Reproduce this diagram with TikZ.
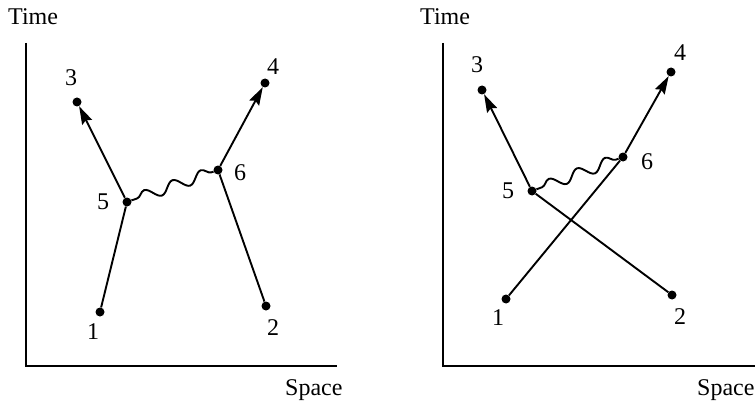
\documentclass[tikz,border=0pt]{standalone}
\usepackage{fontspec}
\setmainfont{Liberation Serif}
\usetikzlibrary{arrows.meta,decorations.pathmorphing}
\begin{document}
\begin{tikzpicture}[x=1pt,y=-1pt,
  dot/.style={circle,fill=black,inner sep=0pt,minimum size=9pt},
  lbl/.style={inner sep=0pt,font=\fontsize{24}{28}\selectfont},
  axis/.style={line width=2pt},
  world/.style={line width=1.9pt},
  arr/.style={world,-{Stealth[length=18pt,width=11pt,inset=2.5pt]}},
  wave/.style={line width=1.9pt,decorate,decoration={snake,segment length=30pt,amplitude=5.5pt,pre length=6pt,post length=1pt}}]
\useasboundingbox (0,0) rectangle (756,404);
% ---------- left diagram ----------
\node[lbl,anchor=base west] (tL) at (8,25) {Time};
\node[lbl,anchor=base west] (sL) at (285,395) {Space};
\coordinate (aLt) at (26,43);
\coordinate (aLo) at (26,366);
\coordinate (aLr) at (337,366);
\draw[axis] (aLt) -- (aLo) -- (aLr);
\node[dot] (L1) at (100,312) {};
\node[dot] (L2) at (266,306) {};
\node[dot] (L3) at (77,102) {};
\node[dot] (L4) at (265,83) {};
\node[dot] (L5) at (127,202) {};
\node[dot] (L6) at (218,170) {};
\node[lbl] (l1) at (93,332) {1};
\node[lbl] (l2) at (273,328) {2};
\node[lbl] (l3) at (71,78) {3};
\node[lbl] (l4) at (273,67) {4};
\node[lbl] (l5) at (103,202) {5};
\node[lbl] (l6) at (240,173) {6};
\draw[world] (L1) -- (L5);
\draw[arr] (L5) -- (L3);
\draw[world] (L2) -- (L6);
\draw[arr] (L6) -- (L4);
\draw[wave] (L5) -- (L6);
% ---------- right diagram ----------
\node[lbl,anchor=base west] (tR) at (420,25) {Time};
\node[lbl,anchor=base west] (sR) at (697,395) {Space};
\coordinate (aRt) at (443,43);
\coordinate (aRo) at (443,366);
\coordinate (aRr) at (755,366);
\draw[axis] (aRt) -- (aRo) -- (aRr);
\node[dot] (R1) at (506,299) {};
\node[dot] (R2) at (672,295) {};
\node[dot] (R3) at (482,90) {};
\node[dot] (R4) at (671,72) {};
\node[dot] (R5) at (532,191) {};
\node[dot] (R6) at (623,157) {};
\node[lbl] (r1) at (498,318) {1};
\node[lbl] (r2) at (680,317) {2};
\node[lbl] (r3) at (477,65) {3};
\node[lbl] (r4) at (680,53) {4};
\node[lbl] (r5) at (508,191) {5};
\node[lbl] (r6) at (647,162) {6};
\draw[world] (R1) -- (R6);
\draw[arr] (R6) -- (R4);
\draw[world] (R5) -- (R2);
\draw[arr] (R5) -- (R3);
\draw[wave] (R5) -- (R6);
\end{tikzpicture}
\end{document}
